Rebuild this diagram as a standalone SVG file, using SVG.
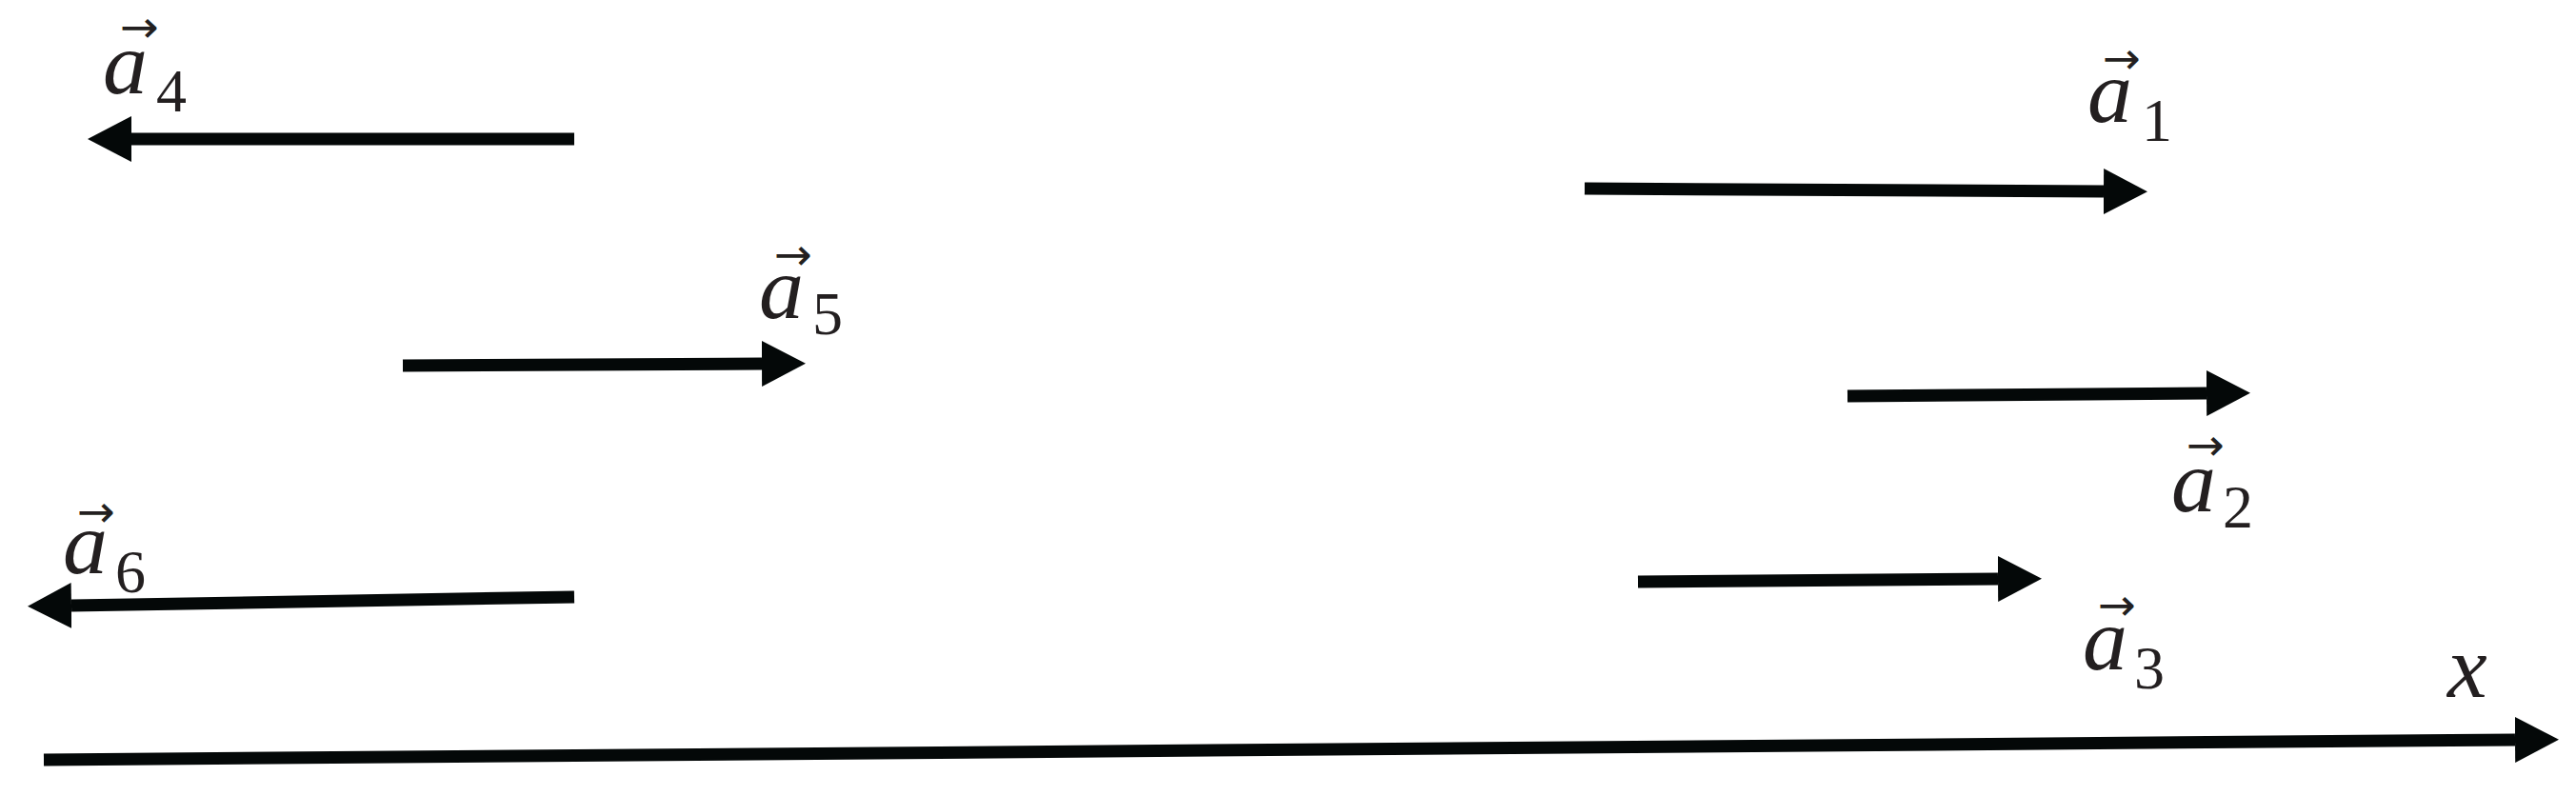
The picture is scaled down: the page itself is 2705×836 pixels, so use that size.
<svg xmlns="http://www.w3.org/2000/svg" width="2705" height="836" viewBox="0 0 2705 836">
<style>
  .vec { stroke: #040808; stroke-width: 13; fill: none; marker-end: url(#head); }
  .a { font-family: "Liberation Serif", serif; font-style: italic; font-size: 94px; fill: #231f20; }
  .sub { font-family: "Liberation Serif", serif; font-size: 64px; fill: #231f20; }
  .acc { font-family: "DejaVu Sans", sans-serif; font-size: 46px; fill: #231f20; }
</style>
<defs>
  <marker id="head" markerUnits="userSpaceOnUse" markerWidth="47" markerHeight="50" refX="0" refY="24" orient="auto" viewBox="0 0 47 50">
    <path d="M0,0 L46,24 L0,48 Z" fill="#040808"/>
  </marker>
</defs>
<rect width="2705" height="836" fill="#ffffff"/>
<g id="connectors">
  <line id="v1" class="vec" x1="1664" y1="198" x2="2209" y2="201"/>
  <line id="v2" class="vec" x1="1940" y1="416" x2="2317" y2="413"/>
  <line id="v3" class="vec" x1="1720" y1="611" x2="2098" y2="608"/>
  <line id="v4" class="vec" x1="603" y1="146" x2="138" y2="146"/>
  <line id="v5" class="vec" x1="423" y1="384" x2="800" y2="382"/>
  <line id="v6" class="vec" x1="603" y1="627" x2="75" y2="636"/>
  <line id="axis" class="vec" x1="46" y1="798" x2="2641" y2="777"/>
</g>
<g id="label-a1">
  <text class="acc" x="2208" y="77" textLength="40" lengthAdjust="spacingAndGlyphs">→</text>
  <text class="a" x="2192" y="128">a</text>
  <text class="sub" x="2249" y="148">1</text>
</g>
<g id="label-a2">
  <text class="acc" x="2296" y="483" textLength="40" lengthAdjust="spacingAndGlyphs">→</text>
  <text class="a" x="2280" y="537">a</text>
  <text class="sub" x="2334" y="554">2</text>
</g>
<g id="label-a3">
  <text class="acc" x="2203" y="651" textLength="40" lengthAdjust="spacingAndGlyphs">→</text>
  <text class="a" x="2187" y="703">a</text>
  <text class="sub" x="2241" y="723">3</text>
</g>
<g id="label-a4">
  <text class="acc" x="126" y="44" textLength="41" lengthAdjust="spacingAndGlyphs">→</text>
  <text class="a" x="108" y="98">a</text>
  <text class="sub" x="164" y="117">4</text>
</g>
<g id="label-a5">
  <text class="acc" x="813" y="283" textLength="40" lengthAdjust="spacingAndGlyphs">→</text>
  <text class="a" x="797" y="334">a</text>
  <text class="sub" x="853" y="351">5</text>
</g>
<g id="label-a6">
  <text class="acc" x="81" y="553" textLength="40" lengthAdjust="spacingAndGlyphs">→</text>
  <text class="a" x="66" y="602">a</text>
  <text class="sub" x="121" y="622">6</text>
</g>
<g id="label-x">
  <text class="a" x="2570" y="732">x</text>
</g>
</svg>
